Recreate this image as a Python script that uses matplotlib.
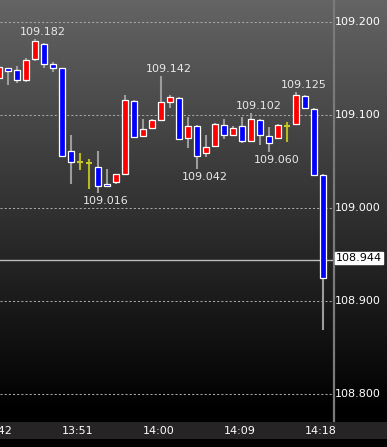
import numpy as np
import matplotlib
matplotlib.use("Agg")
import matplotlib.pyplot as plt
from matplotlib.transforms import blended_transform_factory

# ---------------- data ----------------
times = ["13:42", "13:43", "13:44", "13:45", "13:46", "13:47", "13:48", "13:49",
         "13:50", "13:51", "13:52", "13:53", "13:54", "13:55", "13:56", "13:57",
         "13:58", "13:59", "14:00", "14:01", "14:02", "14:03", "14:04", "14:05",
         "14:06", "14:07", "14:08", "14:09", "14:10", "14:11", "14:12", "14:13",
         "14:14", "14:15", "14:16", "14:17", "14:18"]
opens = [109.140, 109.150, 109.148, 109.138, 109.160, 109.176, 109.155, 109.150,
         109.061, 109.050, 109.048, 109.044, 109.026, 109.028, 109.037, 109.115,
         109.077, 109.086, 109.095, 109.114, 109.118, 109.075, 109.088, 109.059,
         109.067, 109.089, 109.078, 109.088, 109.072, 109.095, 109.077, 109.075,
         109.088, 109.090, 109.120, 109.106, 109.036]
highs = [109.153, 109.151, 109.153, 109.161, 109.182, 109.177, 109.157, 109.151,
         109.079, 109.059, 109.053, 109.061, 109.042, 109.037, 109.122, 109.116,
         109.096, 109.096, 109.142, 109.122, 109.119, 109.098, 109.089, 109.078,
         109.091, 109.096, 109.088, 109.098, 109.102, 109.096, 109.087, 109.090,
         109.093, 109.125, 109.122, 109.107, 109.037]
lows = [109.138, 109.132, 109.134, 109.135, 109.158, 109.150, 109.146, 109.055,
        109.026, 109.041, 109.020, 109.016, 109.024, 109.026, 109.037, 109.075,
        109.077, 109.085, 109.094, 109.108, 109.073, 109.064, 109.042, 109.055,
        109.066, 109.074, 109.078, 109.070, 109.071, 109.068, 109.060, 109.074,
        109.071, 109.089, 109.106, 109.034, 108.869]
closes = [109.152, 109.147, 109.138, 109.159, 109.180, 109.155, 109.151, 109.056,
          109.050, 109.050, 109.048, 109.024, 109.024, 109.037, 109.116, 109.076,
          109.085, 109.095, 109.114, 109.119, 109.074, 109.088, 109.056, 109.066,
          109.090, 109.078, 109.086, 109.072, 109.096, 109.078, 109.070, 109.089,
          109.088, 109.122, 109.108, 109.035, 108.925]
high_marks = [4, 18, 28, 33]      # candles with labelled highs
low_marks = [11, 22, 30]          # candles with labelled lows
xtick_idx = [0, 9, 18, 27, 36]
ytick_vals = [109.200, 109.100, 109.000, 108.900, 108.800]
current_price = 108.944

# ---------------- figure ----------------
W, H = 387, 447
DPI = 100
fig = plt.figure(figsize=(W / DPI, H / DPI), dpi=DPI)
fig.patch.set_facecolor("black")

# background gradient
bg = fig.add_axes([0, 0, 1, 1], zorder=0)
bg.set_axis_off()
rows = np.arange(H)
vals = np.clip(100 * (1 - rows / 410.0), 0, 255) / 255.0
img = np.repeat(vals[:, None], W, axis=1)
rgb = np.dstack([img, img, img])
# x-axis band
rgb[422:439, :, 0] = 38 / 255
rgb[422:439, :, 1] = 36 / 255
rgb[422:439, :, 2] = 36 / 255
rgb[439:, :, :] = 0
bg.imshow(rgb, aspect="auto", extent=[0, W, H, 0], interpolation="nearest")
bg.set_xlim(0, W)
bg.set_ylim(H, 0)
# separator line of price axis
bg.plot([333.5, 333.5], [0, 422], color="#7a7a7a", lw=1.6, solid_capstyle="butt")

PLOT_R = 333
PLOT_B = 422
ax = fig.add_axes([0, (H - PLOT_B) / H, PLOT_R / W, PLOT_B / H], zorder=1)
ax.patch.set_alpha(0)
for s in ax.spines.values():
    s.set_visible(False)
ax.set_xticks([])
ax.set_yticks([])

PPU = 930.0  # pixels per price unit
ax.set_ylim(109.2 - (PLOT_B - 22) / PPU, 109.2 + 22 / PPU)
ax.set_xlim(1 / 9, (PLOT_R + 1) / 9)

# grid lines
for v in ytick_vals:
    ax.axhline(v, color="#a8a8a8", lw=0.75, linestyle=(0, (2, 2)), zorder=1)

# current price line
ax.axhline(current_price, color="#bdbdbd", lw=1.0, zorder=2)

x = np.arange(len(times))
o = np.array(opens)
c = np.array(closes)
hi = np.array(highs)
lo = np.array(lows)

up = c > o
dn = c < o
dj = c == o

# wicks
ax.vlines(x[~dj], lo[~dj], hi[~dj], color="#9c9c9c", lw=1.5, zorder=3)
ax.vlines(x[dj], lo[dj], hi[dj], color="#b8b820", lw=1.5, zorder=3)
ax.hlines(c[dj], x[dj] - 0.38, x[dj] + 0.38, color="#c8c828", lw=1.5, zorder=4)

bw = 0.72
ax.bar(x[up], (c - o)[up], bottom=o[up], width=bw, color="#ff0000",
       edgecolor="white", linewidth=0.9, zorder=4)
ax.bar(x[dn], (o - c)[dn], bottom=c[dn], width=bw, color="#0000ff",
       edgecolor="white", linewidth=0.9, zorder=4)

px2pt = 72.0 / DPI
for i in high_marks:
    ax.annotate(f"{highs[i]:.3f}", xy=(x[i], highs[i]), xytext=(8 * px2pt, 7 * px2pt),
                textcoords="offset points", ha="center", va="center",
                color="#e8e8e8", fontsize=8, zorder=6)
for i in low_marks:
    ax.annotate(f"{lows[i]:.3f}", xy=(x[i], lows[i]), xytext=(8 * px2pt, -8 * px2pt),
                textcoords="offset points", ha="center", va="center",
                color="#e8e8e8", fontsize=8, zorder=6)

# right price axis labels
tr = blended_transform_factory(ax.transAxes, ax.transData)
for v in ytick_vals:
    ax.text(335 / PLOT_R, v, f"{v:.3f}", transform=tr, ha="left", va="center",
            color="white", fontsize=8, clip_on=False, zorder=6)
ax.text(336 / PLOT_R, current_price + 2 / PPU, f"{current_price:.3f}", transform=tr,
        ha="left", va="center", color="black", fontsize=8, clip_on=False, zorder=7,
        bbox=dict(boxstyle="square,pad=0.12", facecolor="white", edgecolor="white"))

# time labels
trx = blended_transform_factory(ax.transData, ax.transAxes)
for i in xtick_idx:
    ax.annotate(times[i], xy=(x[i], 0), xycoords=trx,
                xytext=(-2.5 * px2pt, -9 * px2pt), textcoords="offset points",
                ha="center", va="center", color="white", fontsize=8,
                annotation_clip=False, zorder=6)

fig.savefig("out.png", dpi=DPI, facecolor=fig.get_facecolor())
